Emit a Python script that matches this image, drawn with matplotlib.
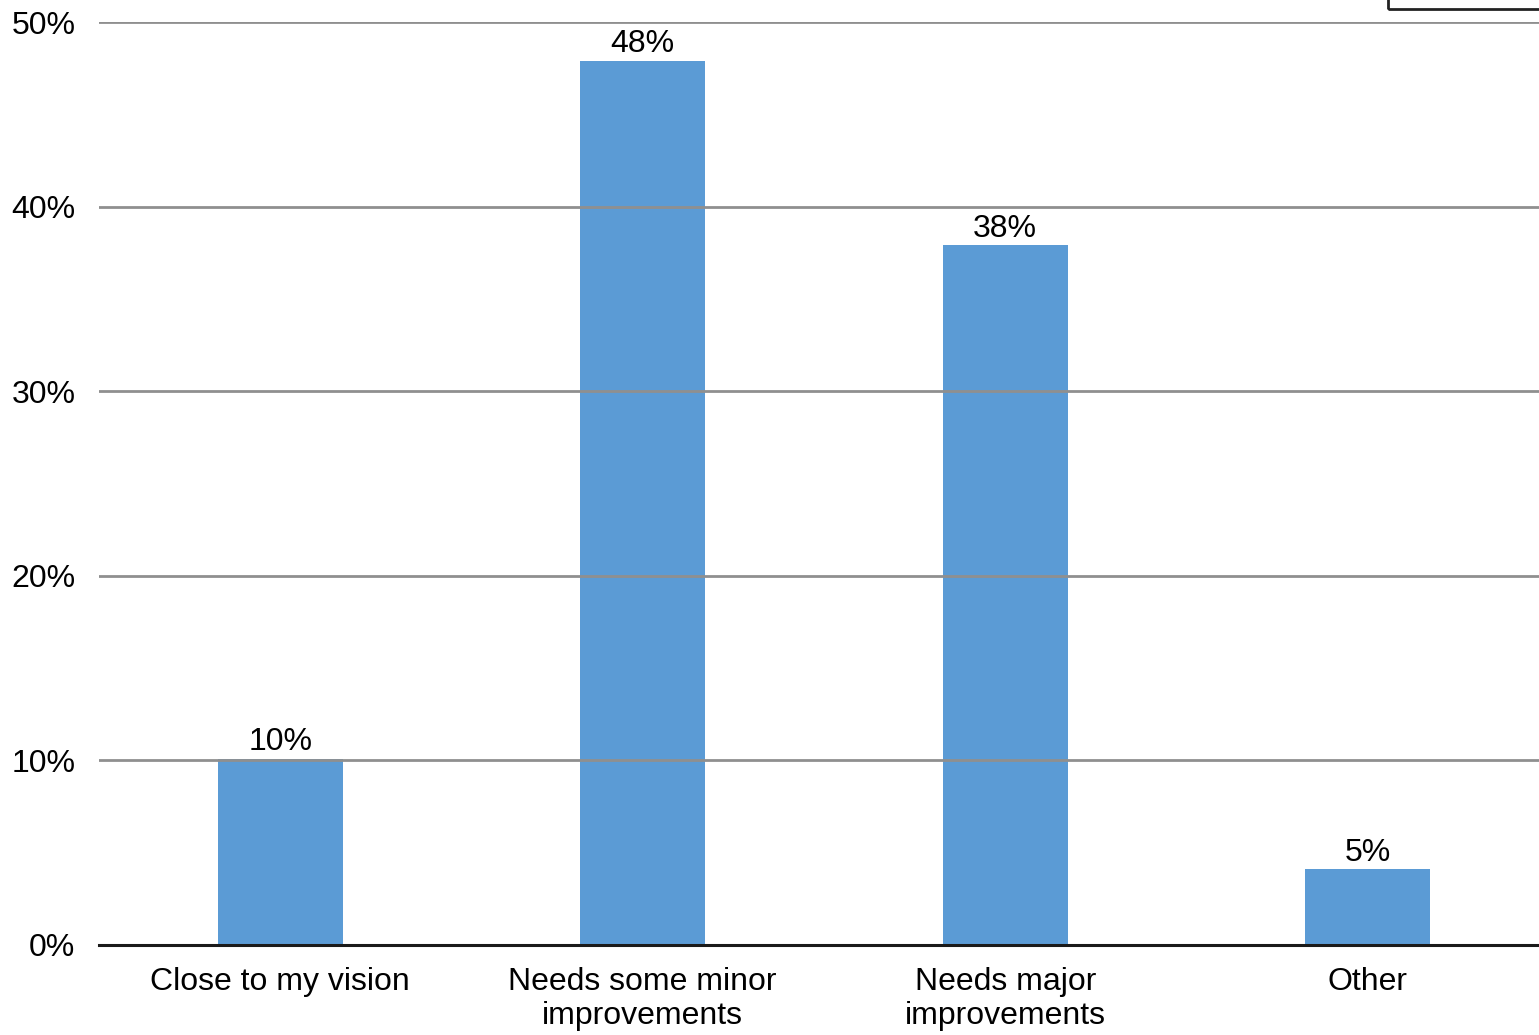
import matplotlib
matplotlib.use("Agg")
import matplotlib.pyplot as plt
from matplotlib.patches import Rectangle

categories = ["Close to my vision", "Needs some minor\nimprovements",
              "Needs major\nimprovements", "Other"]
values = [10.1, 47.9, 37.9, 4.1]
value_labels = ["10%", "48%", "38%", "5%"]
yticks = [0, 10, 20, 30, 40, 50]
ytick_labels = ["0%", "10%", "20%", "30%", "40%", "50%"]

plt.rcParams['font.family'] = ['Liberation Sans', 'DejaVu Sans']

fig = plt.figure(figsize=(15.39, 10.35), dpi=100)
ax = fig.add_axes([99 / 1539, 90 / 1035, 1450 / 1539, 923 / 1035])

x = range(len(categories))
bars = ax.bar(x, values, width=0.345, color='#5B9BD5', zorder=2)

# value labels above bars
for bar, lab in zip(bars, value_labels):
    ax.annotate(lab, (bar.get_x() + bar.get_width() / 2, bar.get_height()),
                xytext=(0, 1), textcoords='offset points',
                ha='center', va='bottom', fontsize=23)

ax.set_xlim(-0.5, 3.5)
ax.set_ylim(0, 50)
ax.set_yticks(yticks)
ax.set_yticklabels(ytick_labels, fontsize=23)
ax.set_xticks(list(x))
ax.set_xticklabels(categories, fontsize=23, linespacing=1.15)
ax.tick_params(axis='y', length=0, pad=17)
ax.tick_params(axis='x', length=0, pad=16)

# gridlines drawn over the bars
for t in yticks[1:]:
    ax.axhline(t, color='#8F8F8F', linewidth=2, zorder=3)

for side in ['top', 'right', 'left']:
    ax.spines[side].set_visible(False)
ax.spines['bottom'].set_color('#1a1a1a')
ax.spines['bottom'].set_linewidth(2.2)
ax.spines['bottom'].set_zorder(4)

# partially visible legend box in the top right corner
fig.patches.append(Rectangle((1388 / 1539, (1035 - 9) / 1035), 0.2, 0.1,
                             transform=fig.transFigure, fill=False,
                             edgecolor='#222222', linewidth=2))

fig.savefig("out.png", dpi=100)
plt.close(fig)
